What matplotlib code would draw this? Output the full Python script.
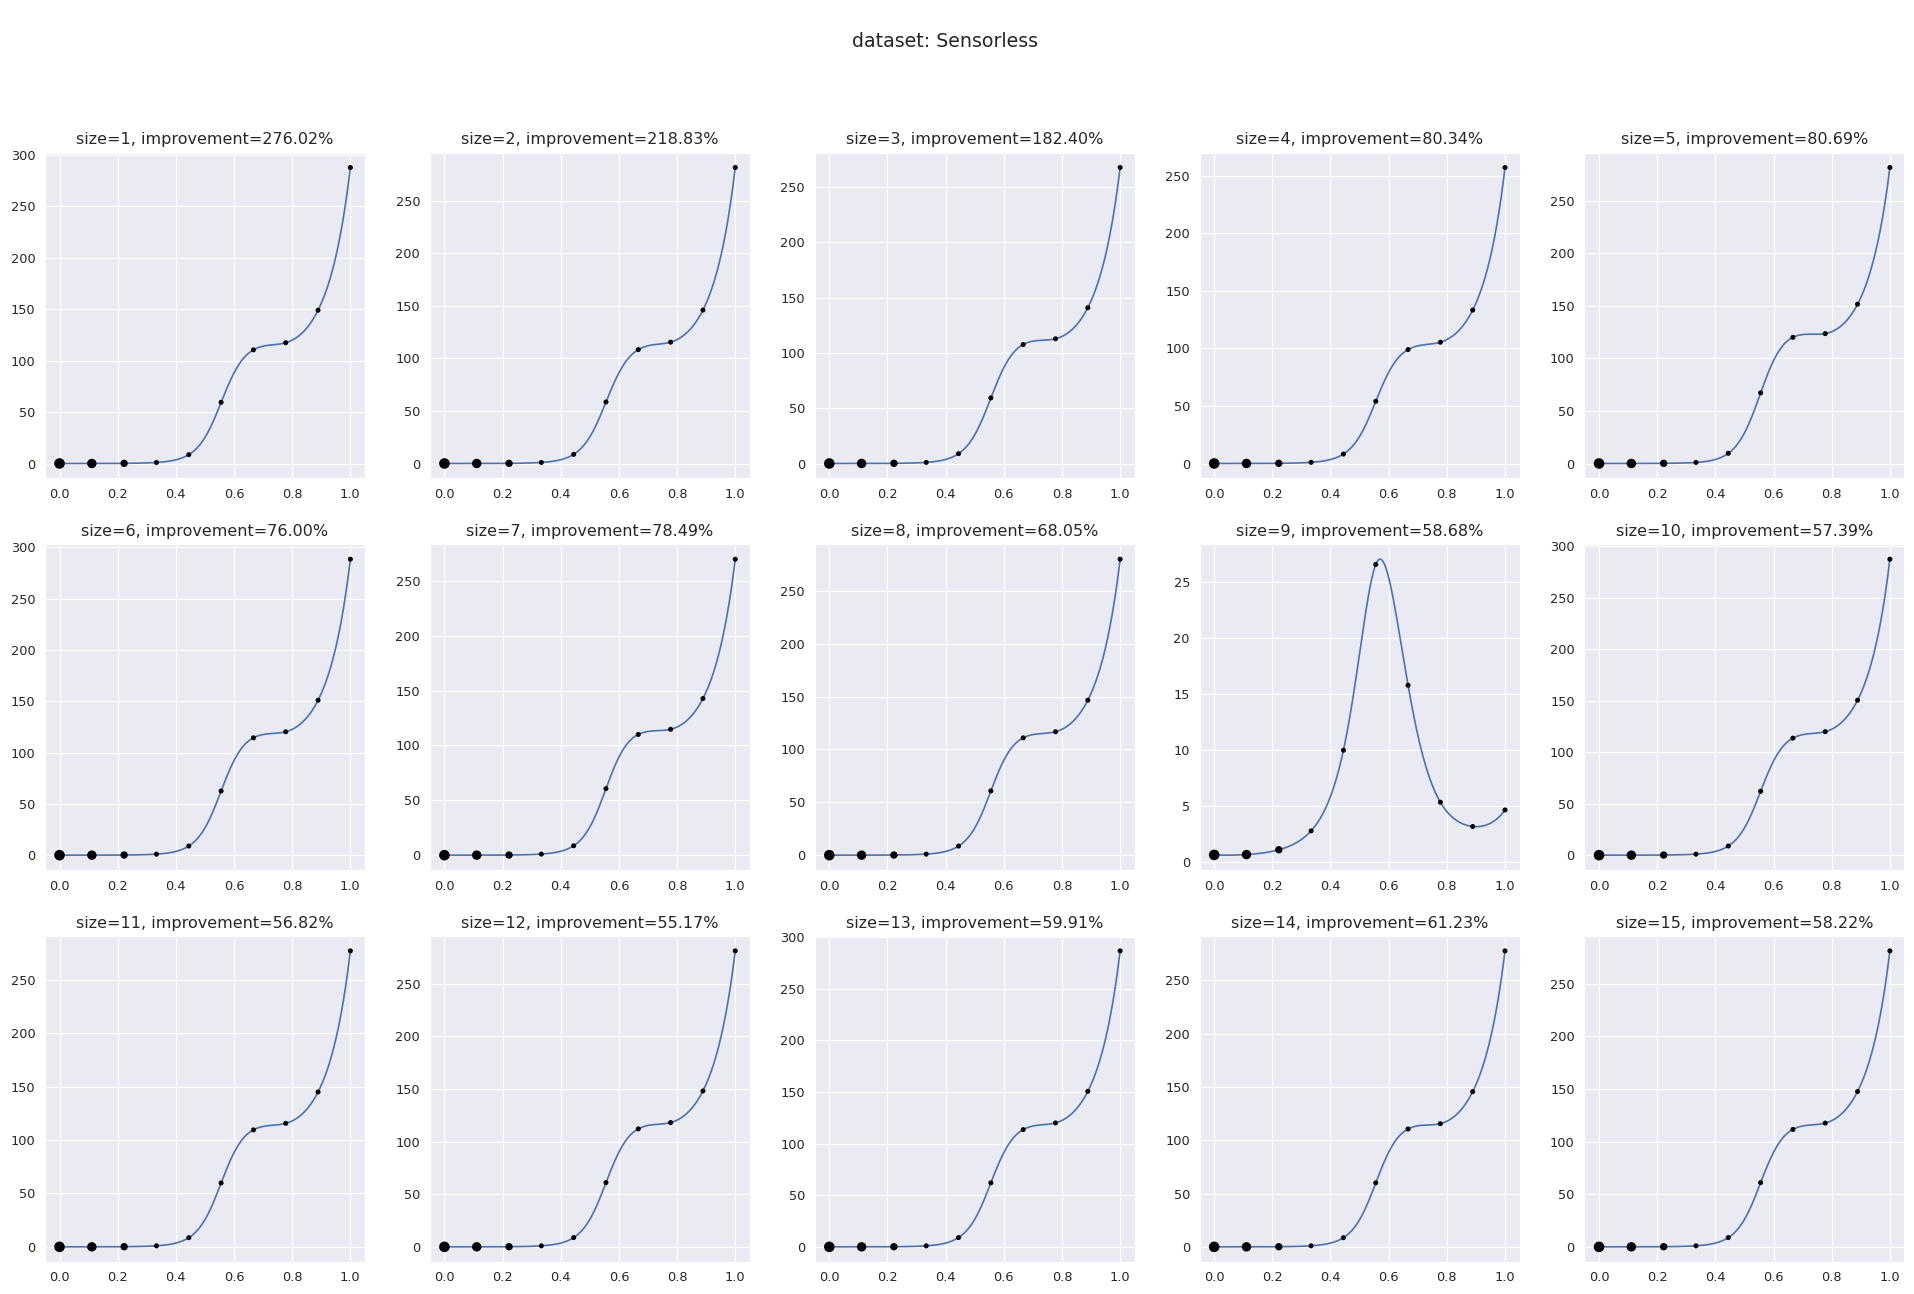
import numpy as np
import matplotlib
matplotlib.use("Agg")
import matplotlib.pyplot as plt
import seaborn as sns

sns.set_style("darkgrid")
plt.rcParams['font.family'] = ['DejaVu Sans']

# ---- data ----
x_values = [0.0, 1/9, 2/9, 3/9, 4/9, 5/9, 6/9, 7/9, 8/9, 1.0]
sizes = [1, 2, 3, 4, 5, 6, 7, 8, 9, 10, 11, 12, 13, 14, 15]
improvements = [276.02, 218.83, 182.40, 80.34, 80.69, 76.00, 78.49, 68.05,
                58.68, 57.39, 56.82, 55.17, 59.91, 61.23, 58.22]

s1 = [0.02, 0.03, 0.15, 1.0, 8.6, 59.5, 110.5, 117.4, 149.0, 287.8]
s2 = [0.02, 0.03, 0.15, 1.0, 8.7, 58.5, 108.3, 115.4, 145.9, 281.5]
s3 = [0.02, 0.03, 0.15, 1.0, 8.9, 59.3, 107.6, 112.8, 140.9, 267.7]
s4 = [0.02, 0.03, 0.15, 1.0, 8.2, 54.0, 98.9, 105.3, 133.2, 257.0]
s5 = [0.02, 0.03, 0.15, 1.0, 9.7, 67.2, 120.0, 123.5, 151.5, 281.5]
s6 = [0.02, 0.03, 0.15, 1.0, 8.9, 62.6, 114.4, 120.3, 151.0, 288.5]
s7 = [0.02, 0.03, 0.15, 1.0, 8.6, 60.7, 110.0, 114.7, 142.7, 269.7]
s8 = [0.02, 0.03, 0.15, 1.0, 8.6, 60.8, 111.0, 116.8, 146.6, 280.0]
s9 = [0.63, 0.66, 1.09, 2.78, 9.99, 26.6, 15.8, 5.34, 3.17, 4.65]
s10 = [0.02, 0.03, 0.15, 1.0, 8.9, 62.1, 113.7, 120.0, 150.5, 287.5]
s11 = [0.02, 0.03, 0.15, 1.0, 8.6, 59.9, 109.6, 115.7, 145.1, 277.3]
s12 = [0.02, 0.03, 0.15, 1.0, 8.8, 61.0, 112.0, 118.0, 148.0, 281.0]
s13 = [0.02, 0.03, 0.15, 1.0, 9.0, 62.0, 113.5, 120.0, 150.5, 286.5]
s14 = [0.02, 0.03, 0.15, 1.0, 8.6, 60.0, 110.5, 115.5, 145.5, 277.5]
s15 = [0.02, 0.03, 0.15, 1.0, 8.8, 61.0, 111.5, 117.5, 147.5, 281.0]
series = [s1, s2, s3, s4, s5, s6, s7, s8, s9, s10, s11, s12, s13, s14, s15]

marker_sizes = [58, 46, 28, 13, 13, 13, 13, 13, 13, 13]


def not_a_knot_spline(x, y, xs):
    x = np.asarray(x, float)
    y = np.asarray(y, float)
    n = len(x)
    h = np.diff(x)
    A = np.zeros((n, n))
    b = np.zeros(n)
    A[0, 0] = h[1]
    A[0, 1] = -(h[0] + h[1])
    A[0, 2] = h[0]
    for i in range(1, n - 1):
        A[i, i - 1] = h[i - 1]
        A[i, i] = 2 * (h[i - 1] + h[i])
        A[i, i + 1] = h[i]
        b[i] = 6 * ((y[i + 1] - y[i]) / h[i] - (y[i] - y[i - 1]) / h[i - 1])
    A[n - 1, n - 3] = h[n - 2]
    A[n - 1, n - 2] = -(h[n - 3] + h[n - 2])
    A[n - 1, n - 1] = h[n - 3]
    M = np.linalg.solve(A, b)
    idx = np.clip(np.searchsorted(x, xs) - 1, 0, n - 2)
    x0, x1 = x[idx], x[idx + 1]
    hh = x1 - x0
    return (M[idx] * (x1 - xs) ** 3 / (6 * hh) + M[idx + 1] * (xs - x0) ** 3 / (6 * hh)
            + (y[idx] / hh - M[idx] * hh / 6) * (x1 - xs)
            + (y[idx + 1] / hh - M[idx + 1] * hh / 6) * (xs - x0))


def smooth_curve(x, y, xs):
    # cubic spline through the points in log space
    return np.exp(not_a_knot_spline(x, np.log(np.asarray(y, float)), xs))


fig, axes = plt.subplots(3, 5, figsize=(19.14, 12.94), dpi=100)
fig.subplots_adjust(left=0.0235, right=0.995, top=0.882, bottom=0.025,
                    wspace=0.203, hspace=0.203)

xs = np.linspace(0, 1, 500)
for k, ax in enumerate(axes.flat):
    yv = series[k]
    ax.plot(xs, smooth_curve(x_values, yv, xs), color='#4c72b0', lw=1.2, zorder=2)
    ax.scatter(x_values, yv, s=marker_sizes, color='black', linewidths=0, zorder=3)
    ax.set_title(f"size={sizes[k]}, improvement={improvements[k]:.2f}%",
                 fontsize=11.5, color='.15')
    ax.tick_params(labelsize=9.3, colors='.15')
    ax.set_xticks([0.0, 0.2, 0.4, 0.6, 0.8, 1.0])

fig.suptitle("dataset: Sensorless", fontsize=13.7, color='.15', x=0.4935, y=0.975)
fig.savefig("out.png", dpi=100)
